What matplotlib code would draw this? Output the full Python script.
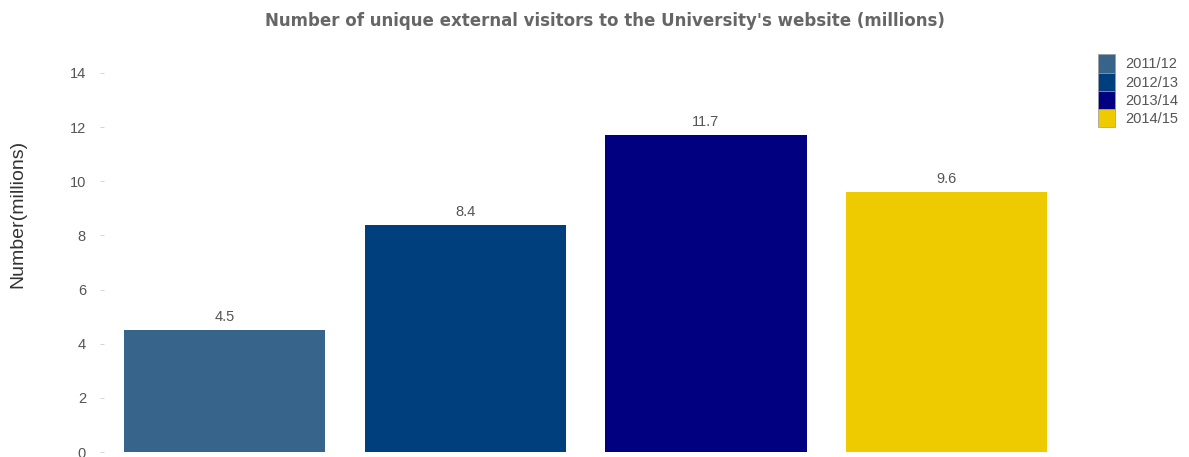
import matplotlib
matplotlib.use("Agg")
import matplotlib.pyplot as plt
from matplotlib.patches import Patch

years = ["2011/12", "2012/13", "2013/14", "2014/15"]
visitors = [4.5, 8.4, 11.7, 9.6]
colors = ["#36648B", "#003F7D", "#000080", "#EECA00"]
yticks = [0, 2, 4, 6, 8, 10, 12, 14]

fig = plt.figure(figsize=(11.89, 4.57), dpi=100)
ax = fig.add_axes([0.0875, 0.0109, 0.8099, 0.8294])

x = list(range(len(years)))
ax.bar(x, visitors, width=0.836, color=colors)
for xi, v in zip(x, visitors):
    ax.text(xi, v + 0.22, f"{v:.1f}", ha="center", va="bottom",
            fontsize=10.5, color="#555555", family="Liberation Sans")

ax.set_xlim(-0.5, 3.5)
ax.set_ylim(0, 14)
ax.set_yticks(yticks)
ax.set_yticklabels([str(t) for t in yticks], family="Liberation Sans",
                   fontsize=10.5, color="#555555")
ax.tick_params(axis="y", length=3, width=0.6, color="#cccccc", pad=10)
ax.set_xticks([])
for s in ax.spines.values():
    s.set_visible(False)

fig.text(0.0151, 0.532, "Number(millions)", rotation=90, ha="center", va="center",
         family="Liberation Sans", fontsize=14, color="#333333")

fig.text(0.509, 0.955, "Number of unique external visitors to the University's website (millions)",
         ha="center", va="center", fontsize=12, fontweight="bold",
         color="#666666", family="DejaVu Sans")

handles = [Patch(facecolor=c, edgecolor="#999999", linewidth=0.5) for c in colors]
leg = fig.legend(handles, years, loc="upper left", bbox_to_anchor=(0.9175, 0.897),
                 frameon=False, handlelength=1.15, handleheight=1.55,
                 handletextpad=0.7, labelspacing=0.0, borderpad=0.0,
                 prop={"family": "Liberation Sans", "size": 10.5})
for t in leg.get_texts():
    t.set_color("#555555")

fig.savefig("out.png", dpi=100)
